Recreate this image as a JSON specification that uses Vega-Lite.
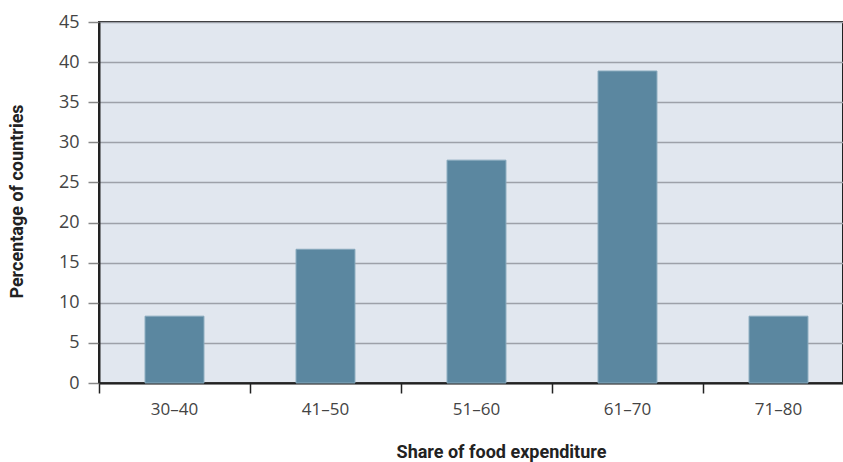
{
  "$schema": "https://vega.github.io/schema/vega-lite/v6.json",
  "autosize": "none",
  "padding": {"left": 99, "top": 22, "right": 0, "bottom": 79},
  "width": 744,
  "height": 361,
  "background": "white",
  "config": {
    "view": {"fill": "#e1e7ef", "stroke": "#222222", "strokeWidth": 2},
    "font": "Open Sans"
  },
  "data": {
    "values": [
      {"share": "30–40", "pct": 8.33},
      {"share": "41–50", "pct": 16.67},
      {"share": "51–60", "pct": 27.78},
      {"share": "61–70", "pct": 38.89},
      {"share": "71–80", "pct": 8.33}
    ]
  },
  "mark": {"type": "bar", "color": "#5b87a0", "stroke": "#86a8bc", "strokeWidth": 1, "width": {"band": 0.39}},
  "encoding": {
    "x": {
      "field": "share",
      "type": "nominal",
      "sort": null,
      "scale": {"range": [0, 755], "paddingInner": 0, "paddingOuter": 0},
      "axis": {
        "title": "Share of food expenditure",
        "titleFont": "Roboto",
        "titleFontWeight": "bold",
        "titleFontSize": 18,
        "titleColor": "#222222",
        "titleX": 402,
        "titleY": 74,
        "titleAlign": "center",
        "titleBaseline": "alphabetic",
        "labelAngle": 0,
        "labelFont": "Open Sans",
        "labelFontSize": 17,
        "labelColor": "#444444",
        "labelPadding": 8,
        "labelBaseline": "top",
        "domainColor": "#222222",
        "domainWidth": 2,
        "tickColor": "#222222",
        "tickWidth": 1.5,
        "tickSize": 10,
        "bandPosition": 0,
        "grid": false
      }
    },
    "y": {
      "field": "pct",
      "type": "quantitative",
      "scale": {"domain": [0, 45], "nice": false},
      "axis": {
        "title": "Percentage of countries",
        "titleFont": "Roboto",
        "titleFontWeight": "bold",
        "titleFontSize": 18,
        "titleColor": "#222222",
        "titleX": -82,
        "titleY": 179,
        "titleAngle": -90,
        "titleAlign": "center",
        "titleBaseline": "middle",
        "values": [0, 5, 10, 15, 20, 25, 30, 35, 40, 45],
        "labelFont": "Open Sans",
        "labelFontSize": 18,
        "labelColor": "#444444",
        "labelPadding": 9,
        "domainColor": "#222222",
        "domainWidth": 2,
        "tickColor": "#888888",
        "tickWidth": 1.5,
        "tickSize": 11,
        "grid": true,
        "gridColor": "#9da1a9",
        "gridWidth": 1.5
      }
    }
  }
}
